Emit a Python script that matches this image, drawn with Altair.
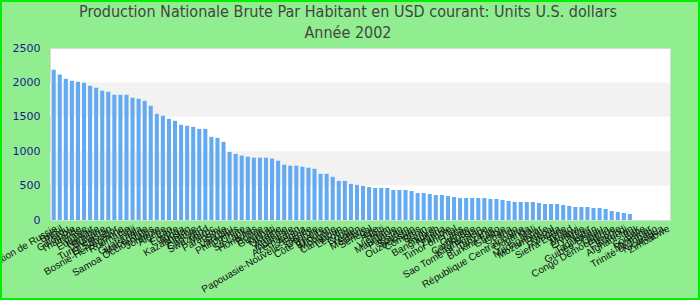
import altair as alt
import pandas as pd

countries = [
    "Fédération de Russie", "Brésil", "Pérou", "Colombie", "Thaïlande", "Tunisie",
    "Équateur", "Namibie", "Bulgarie", "Turkménistan", "El Salvador", "Bosnie-Herzégovine",
    "Roumanie", "Fidji", "Guatemala", "Macédoine", "Samoa Occidentales", "Jordanie",
    "Algérie", "Iran", "Égypte", "Tonga", "Kazakhstan", "Albanie", "Cap-Vert", "Swaziland",
    "Maroc", "Paraguay", "Syrie", "Vanuatu", "Philippines", "Chine", "Sri Lanka", "Honduras",
    "Bolivie", "Guyana", "Kiribati", "Ukraine", "Arménie", "Indonésie", "Azerbaïdjan", "Angola",
    "Papouasie-Nouvelle-Guinée", "Géorgie", "Côte d'Ivoire", "Bhoutan", "Mongolie", "Cameroun",
    "Lesotho", "Congo", "Yémen", "Moldavie", "Sénégal", "Inde", "Haïti", "Vietnam",
    "Mauritanie", "Pakistan", "Soudan", "Ouzbékistan", "Comores", "Bénin", "Kenya", "Bangladesh",
    "Nigeria", "Zambie", "Timor oriental", "Laos", "Guinée", "Cambodge", "Kirghizistan",
    "Sao Tomé-et-Principe", "Tanzanie", "Burkina Faso", "Gambie", "Ghana", "Togo",
    "République Centrafricaine", "Ouganda", "Mali", "Madagascar", "Mozambique", "Népal",
    "Rwanda", "Sierra Leone", "Tchad", "Malawi", "Érythrée", "Niger", "Tadjikistan",
    "Guinée-Bissau", "Liberia", "Congo Démocratique", "Éthiopie", "Burundi", "Afghanistan",
    "Irak", "Somalie", "Myanmar", "Trinité-et-Tobago", "Nicaragua", "Zimbabwe",
]

values = [
    2184, 2116, 2053, 2024, 2010, 1995, 1951, 1922, 1878, 1864, 1820, 1820,
    1820, 1777, 1762, 1733, 1660, 1544, 1515, 1471, 1442, 1383, 1369, 1354, 1325, 1325,
    1209, 1194, 1136, 990, 961, 936, 921, 906, 906, 906, 892, 862, 804, 789, 789, 774,
    760, 745, 671, 671, 627, 568, 568, 524, 510, 495, 480, 466, 466, 466,
    436, 436, 436, 421, 392, 392, 377, 363, 363, 348, 333, 319, 320, 320, 320,
    320, 306, 306, 291, 277, 262, 262, 262, 262, 248, 233, 233, 233, 218, 204, 189, 189,
    189, 175, 175, 160, 131, 116, 102, 87,
    None, None, None, None, None, None,
]

band_low = [500, 1500]
band_high = [1000, 2000]

y_ticks = [0, 500, 1000, 1500, 2000, 2500]

title_lines = [
    "Production Nationale Brute Par Habitant en USD courant: Units U.S. dollars",
    "Année 2002",
]

df = pd.DataFrame({"pays": countries, "valeur": values})
bands = pd.DataFrame({"lo": band_low, "hi": band_high})
one_row = pd.DataFrame({"k": [1]})

W, H = 620, 172

band_layer = alt.Chart(bands).mark_rect(color="#f2f2f2").encode(
    y=alt.Y("lo:Q", scale=alt.Scale(domain=[0, 2500], nice=False), axis=None),
    y2="hi:Q",
    x=alt.value(0),
    x2=alt.value(W),
)

bars = alt.Chart(df).mark_bar(color="#64aaf0").encode(
    x=alt.X(
        "pays:N",
        sort=None,
        scale=alt.Scale(domain=countries, paddingInner=0.33, paddingOuter=0.275),
        axis=alt.Axis(
            title=None,
            labelAngle=-30,
            labelFont="Liberation Sans",
            labelFontSize=10,
            labelColor="#111111",
            labelOverlap=False,
            labelLimit=300,
            ticks=False,
            domain=False,
            labelPadding=3,
        ),
    ),
    y=alt.Y(
        "valeur:Q",
        scale=alt.Scale(domain=[0, 2500], nice=False),
        axis=alt.Axis(
            title=None,
            values=y_ticks,
            format="d",
            grid=False,
            ticks=False,
            domain=False,
            labelOverlap=False,
            labelFlush=False,
            labelFont="DejaVu Sans",
            labelFontSize=11,
            labelColor="#1a1a8a",
            labelPadding=10,
        ),
    ),
)

title_text = alt.Chart(one_row).mark_text(
    text=title_lines,
    font="Liberation Sans Narrow, Arial Narrow, DejaVu Sans Condensed, Liberation Sans",
    fontSize=16,
    color="#444444",
    lineHeight=21,
    align="center",
    baseline="top",
    clip=False,
).encode(x=alt.value(298), y=alt.value(-44))

border = alt.Chart(one_row).mark_rect(
    filled=False, stroke="#00ee00", strokeWidth=2, clip=False
).encode(
    x=alt.value(-49),
    x2=alt.value(649),
    y=alt.value(-47),
    y2=alt.value(251),
)

chart = (
    alt.layer(band_layer, bars, title_text, border)
    .resolve_axis(y="independent")
    .properties(
        width=W,
        height=H,
        background="#90ee90",
        padding={"left": 50, "top": 48, "right": 30, "bottom": 80},
        autosize=alt.AutoSizeParams(type="none"),
    )
    .configure_view(stroke="#d9d9d9", strokeWidth=1, fill="white")
)

chart.save("out.html", embed_options={"renderer": "svg", "actions": False})
